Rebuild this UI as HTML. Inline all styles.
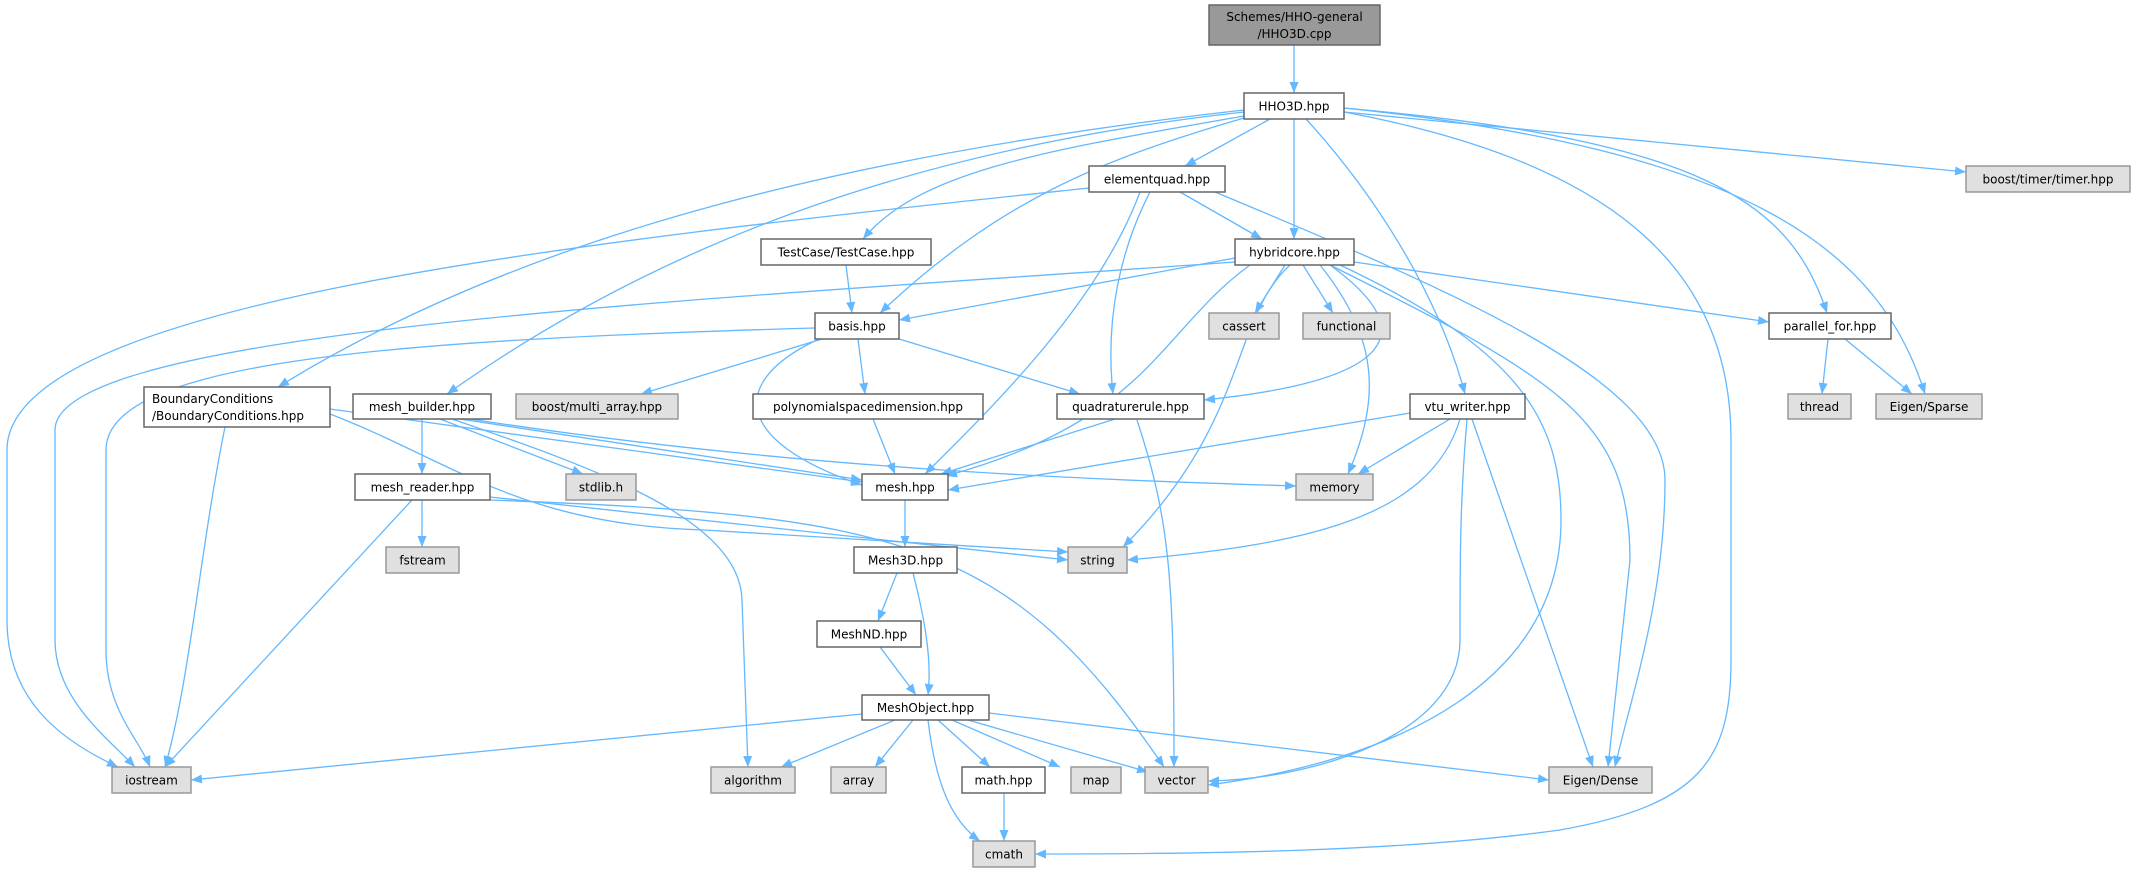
<!DOCTYPE html>
<html><head><meta charset="utf-8"><style>
html,body{margin:0;padding:0;background:#fff;}
svg{display:block;}
text{font-family:"DejaVu Sans","Liberation Sans",sans-serif;font-size:12px;fill:#000;}
.w{fill:#fff;stroke:#666;stroke-width:1.5;}
.g{fill:#e0e0e0;stroke:#999;stroke-width:1.5;}
.d{fill:#999;stroke:#666;stroke-width:1.5;}
.e{fill:none;stroke:#63b8ff;stroke-width:1.3;marker-end:url(#a);}
</style></head><body>
<svg width="2135" height="872" viewBox="0 0 2135 872" xmlns="http://www.w3.org/2000/svg">
<defs><marker id="a" markerUnits="userSpaceOnUse" markerWidth="12" markerHeight="10" refX="11" refY="5" orient="auto"><path d="M0,0.5 L11,5 L0,9.5 Z" fill="#63b8ff"/></marker></defs>
<g>
<path class="e" d="M1294,45 L1294,93"/>
<path class="e" d="M1270,119 L1185,166"/>
<path class="e" d="M1294,119 L1294,239"/>
<path class="e" d="M1244,116 C1050,150 920,170 863,239"/>
<path class="e" d="M1244,118 C1100,160 1000,200 880,313"/>
<path class="e" d="M1244,110 C800,160 500,250 278,387"/>
<path class="e" d="M1244,112 C900,150 650,250 447,394"/>
<path class="e" d="M1306,119 C1380,200 1440,300 1465,394"/>
<path class="e" d="M1344,112 C1600,160 1731,260 1731,440 L1731,660 C1731,760 1700,805 1560,830 C1400,852 1200,854 1035,854"/>
<path class="e" d="M1344,108 C1700,140 1790,200 1827,313"/>
<path class="e" d="M1344,108 C1750,150 1880,250 1925,394"/>
<path class="e" d="M1344,112 L1966,172"/>
<path class="e" d="M1215,192 C1450,290 1665,380 1665,480 C1665,600 1630,700 1615,767"/>
<path class="e" d="M1180,192 L1262,239"/>
<path class="e" d="M1150,192 C1120,250 1105,320 1113,394"/>
<path class="e" d="M1140,192 C1100,300 1000,400 925,474"/>
<path class="e" d="M1089,188 C600,240 7,300 7,450 L7,620 C7,700 60,740 118,767"/>
<path class="e" d="M846,265 L852,313"/>
<path class="e" d="M1235,258 L899,320"/>
<path class="e" d="M1235,262 C700,300 55,330 55,430 L55,640 C55,700 110,740 135,767"/>
<path class="e" d="M1285,265 L1255,313"/>
<path class="e" d="M1303,265 L1333,313"/>
<path class="e" d="M1354,262 L1769,322"/>
<path class="e" d="M1330,265 C1420,330 1400,380 1204,400"/>
<path class="e" d="M1250,265 C1160,330 1150,420 946,476"/>
<path class="e" d="M1290,265 C1230,320 1250,420 1123,547"/>
<path class="e" d="M1320,265 C1380,340 1380,400 1348,474"/>
<path class="e" d="M1340,265 C1520,350 1561,420 1561,520 C1561,680 1400,760 1208,785"/>
<path class="e" d="M1330,265 C1560,380 1630,420 1630,560 L1608,767"/>
<path class="e" d="M815,328 C400,340 106,360 106,450 L106,650 C106,710 140,740 150,767"/>
<path class="e" d="M822,339 L641,394"/>
<path class="e" d="M858,339 L865,394"/>
<path class="e" d="M899,339 L1080,394"/>
<path class="e" d="M819,339 C730,380 730,440 862,485"/>
<path class="e" d="M1828,339 L1822,394"/>
<path class="e" d="M1845,339 L1912,394"/>
<path class="e" d="M225,427 C200,550 190,680 165,767"/>
<path class="e" d="M330,409 L862,482"/>
<path class="e" d="M330,414 C450,460 520,525 704,530 L1068,552"/>
<path class="e" d="M422,419 L422,474"/>
<path class="e" d="M440,419 L583,474"/>
<path class="e" d="M460,419 L862,480"/>
<path class="e" d="M470,419 C800,470 1100,480 1296,486"/>
<path class="e" d="M452,419 C600,470 740,520 742,600 L748,767"/>
<path class="e" d="M873,419 L895,474"/>
<path class="e" d="M1115,419 L941,474"/>
<path class="e" d="M1137,420 C1170,520 1174,580 1174,767"/>
<path class="e" d="M1410,413 L948,490"/>
<path class="e" d="M1450,419 L1358,474"/>
<path class="e" d="M1460,419 C1430,520 1300,545 1127,560"/>
<path class="e" d="M1467,419 C1460,500 1460,560 1460,640 C1460,740 1300,780 1208,781"/>
<path class="e" d="M1472,419 L1593,767"/>
<path class="e" d="M422,500 L422,547"/>
<path class="e" d="M412,500 L165,767"/>
<path class="e" d="M490,497 L1068,560"/>
<path class="e" d="M490,500 C900,515 1010,540 1164,767"/>
<path class="e" d="M905,500 L905,547"/>
<path class="e" d="M897,573 L878,621"/>
<path class="e" d="M913,573 C925,620 932,660 928,695"/>
<path class="e" d="M880,647 L916,695"/>
<path class="e" d="M862,714 L191,780"/>
<path class="e" d="M895,720 L781,767"/>
<path class="e" d="M913,720 L875,767"/>
<path class="e" d="M938,720 L990,767"/>
<path class="e" d="M952,720 L1060,767"/>
<path class="e" d="M968,720 L1148,772"/>
<path class="e" d="M989,713 L1549,780"/>
<path class="e" d="M928,720 C935,780 950,820 980,841"/>
<path class="e" d="M1004,793 L1004,841"/>
</g>
<g>
<rect class="d" x="1209" y="5" width="171" height="40"/>
<text x="1294.5" y="21" text-anchor="middle">Schemes/HHO-general</text>
<text x="1294.5" y="38" text-anchor="middle">/HHO3D.cpp</text>
<rect class="w" x="1244" y="93" width="100" height="26"/><text x="1294" y="110.5" text-anchor="middle">HHO3D.hpp</text>
<rect class="w" x="1089" y="166" width="136" height="26"/><text x="1157" y="183.5" text-anchor="middle">elementquad.hpp</text>
<rect class="g" x="1966" y="166" width="164" height="26"/><text x="2048" y="183.5" text-anchor="middle">boost/timer/timer.hpp</text>
<rect class="w" x="1235" y="239" width="119" height="26"/><text x="1294.5" y="256.5" text-anchor="middle">hybridcore.hpp</text>
<rect class="w" x="761" y="239" width="170" height="26"/><text x="846" y="256.5" text-anchor="middle">TestCase/TestCase.hpp</text>
<rect class="w" x="815" y="313" width="84" height="26"/><text x="857" y="330.5" text-anchor="middle">basis.hpp</text>
<rect class="g" x="1209" y="313" width="70" height="26"/><text x="1244" y="330.5" text-anchor="middle">cassert</text>
<rect class="g" x="1303" y="313" width="87" height="26"/><text x="1346.5" y="330.5" text-anchor="middle">functional</text>
<rect class="w" x="1769" y="313" width="122" height="26"/><text x="1830" y="330.5" text-anchor="middle">parallel_for.hpp</text>
<rect class="w" x="144" y="387" width="186" height="40"/>
<text x="152" y="403">BoundaryConditions</text><text x="152" y="420">/BoundaryConditions.hpp</text>
<rect class="w" x="353" y="394" width="138" height="25"/><text x="422" y="411" text-anchor="middle">mesh_builder.hpp</text>
<rect class="g" x="516" y="394" width="162" height="25"/><text x="597" y="411" text-anchor="middle">boost/multi_array.hpp</text>
<rect class="w" x="753" y="394" width="230" height="25"/><text x="868" y="411" text-anchor="middle">polynomialspacedimension.hpp</text>
<rect class="w" x="1057" y="394" width="147" height="25"/><text x="1130.5" y="411" text-anchor="middle">quadraturerule.hpp</text>
<rect class="w" x="1410" y="394" width="115" height="25"/><text x="1467.5" y="411" text-anchor="middle">vtu_writer.hpp</text>
<rect class="g" x="1788" y="394" width="63" height="25"/><text x="1819.5" y="411" text-anchor="middle">thread</text>
<rect class="g" x="1876" y="394" width="106" height="25"/><text x="1929" y="411" text-anchor="middle">Eigen/Sparse</text>
<rect class="w" x="355" y="474" width="135" height="26"/><text x="422.5" y="491.5" text-anchor="middle">mesh_reader.hpp</text>
<rect class="g" x="566" y="474" width="70" height="26"/><text x="601" y="491.5" text-anchor="middle">stdlib.h</text>
<rect class="w" x="862" y="474" width="86" height="26"/><text x="905" y="491.5" text-anchor="middle">mesh.hpp</text>
<rect class="g" x="1296" y="474" width="77" height="26"/><text x="1334.5" y="491.5" text-anchor="middle">memory</text>
<rect class="g" x="386" y="547" width="73" height="26"/><text x="422.5" y="564.5" text-anchor="middle">fstream</text>
<rect class="w" x="854" y="547" width="103" height="26"/><text x="905.5" y="564.5" text-anchor="middle">Mesh3D.hpp</text>
<rect class="g" x="1068" y="547" width="59" height="26"/><text x="1097.5" y="564.5" text-anchor="middle">string</text>
<rect class="w" x="817" y="621" width="104" height="26"/><text x="869" y="638.5" text-anchor="middle">MeshND.hpp</text>
<rect class="w" x="862" y="695" width="127" height="25"/><text x="925.5" y="712" text-anchor="middle">MeshObject.hpp</text>
<rect class="g" x="112" y="767" width="79" height="26"/><text x="151.5" y="784.5" text-anchor="middle">iostream</text>
<rect class="g" x="711" y="767" width="84" height="26"/><text x="753" y="784.5" text-anchor="middle">algorithm</text>
<rect class="g" x="831" y="767" width="55" height="26"/><text x="858.5" y="784.5" text-anchor="middle">array</text>
<rect class="w" x="962" y="767" width="83" height="26"/><text x="1003.5" y="784.5" text-anchor="middle">math.hpp</text>
<rect class="g" x="1071" y="767" width="50" height="26"/><text x="1096" y="784.5" text-anchor="middle">map</text>
<rect class="g" x="1145" y="767" width="63" height="26"/><text x="1176.5" y="784.5" text-anchor="middle">vector</text>
<rect class="g" x="1549" y="767" width="103" height="26"/><text x="1600.5" y="784.5" text-anchor="middle">Eigen/Dense</text>
<rect class="g" x="973" y="841" width="62" height="26"/><text x="1004" y="858.5" text-anchor="middle">cmath</text>
</g>
</svg>
</body></html>
